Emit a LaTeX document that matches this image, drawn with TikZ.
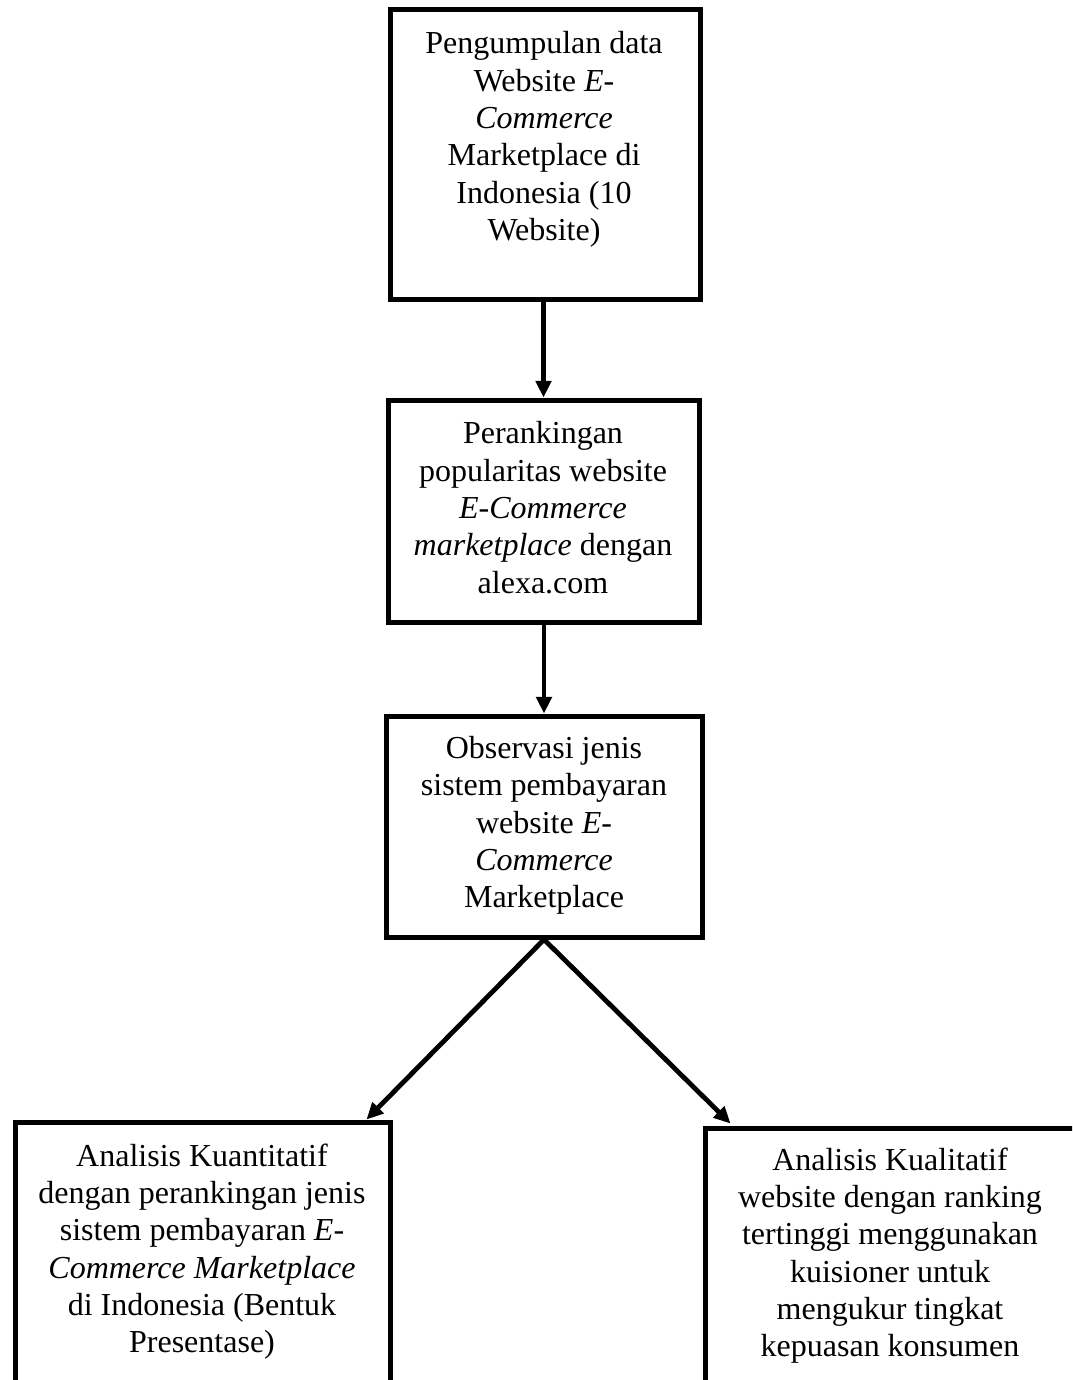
\documentclass[tikz,border=0pt]{standalone}
\usepackage{fontspec}
\setmainfont{Liberation Serif}
\usetikzlibrary{arrows.meta,calc}
\tikzset{
  stepbox/.style={draw=black, line width=3.75pt, rectangle, inner sep=0pt, fill=none},
  txt/.style={align=center, inner sep=0pt, font=\fontsize{24pt}{28pt}\selectfont},
  flow/.style={line width=3.6pt, -{Triangle[length=12.5pt,width=11.5pt]}, shorten <=0pt}
}
\begin{document}
\begin{tikzpicture}[x=0.75pt, y=-0.75pt]
\useasboundingbox (0,0) rectangle (1072,1380);
\clip (0,0) rectangle (1072,1380);
\fill[white] (0,0) rectangle (1072,1380);

% boxes
\node[stepbox, minimum width=232.5pt, minimum height=216.75pt] (b1) at (545,154.5) {};
\node[stepbox, minimum width=233.25pt, minimum height=166.5pt] (b2) at (543.5,511) {};
\node[stepbox, minimum width=237pt, minimum height=165.75pt] (b3) at (544,826.5) {};
\node[stepbox, minimum width=281.25pt, minimum height=208.5pt] (b4) at (202.5,1261) {};
\node[stepbox, minimum width=277.5pt, minimum height=204pt] (b5) at (890,1264) {};

% texts
\node[txt] (t1) at (544,139.5) {Pengumpulan data\\Website \textit{E-}\\\textit{Commerce}\\Marketplace di\\Indonesia (10\\Website)};
\node[txt] (t2) at (543,507.5) {Perankingan\\popularitas website\\\textit{E-Commerce}\\\textit{marketplace} dengan\\alexa.com};
\node[txt] (t3) at (544,825.5) {Observasi jenis\\sistem pembayaran\\website \textit{E-}\\\textit{Commerce}\\Marketplace};
\node[txt] (t4) at (202,1251.5) {Analisis Kuantitatif\\dengan perankingan jenis\\sistem pembayaran \textit{E-}\\\textit{Commerce Marketplace}\\di Indonesia (Bentuk\\Presentase)};
\node[txt] (t5) at (890,1255.5) {Analisis Kualitatif\\website dengan ranking\\tertinggi menggunakan\\kuisioner untuk\\mengukur tingkat\\kepuasan konsumen};

% connectors
\draw[flow] (b2.north |- b1.south) -- (b2.north);
\draw[flow] (b3.north |- b2.south) -- (b3.north);
\draw[flow] (b3.south) -- ($(b4.north east)+(-26,0)$);
\draw[flow] (b3.south) -- ($(b5.north west)+(28,-2)$);
\end{tikzpicture}
\end{document}
